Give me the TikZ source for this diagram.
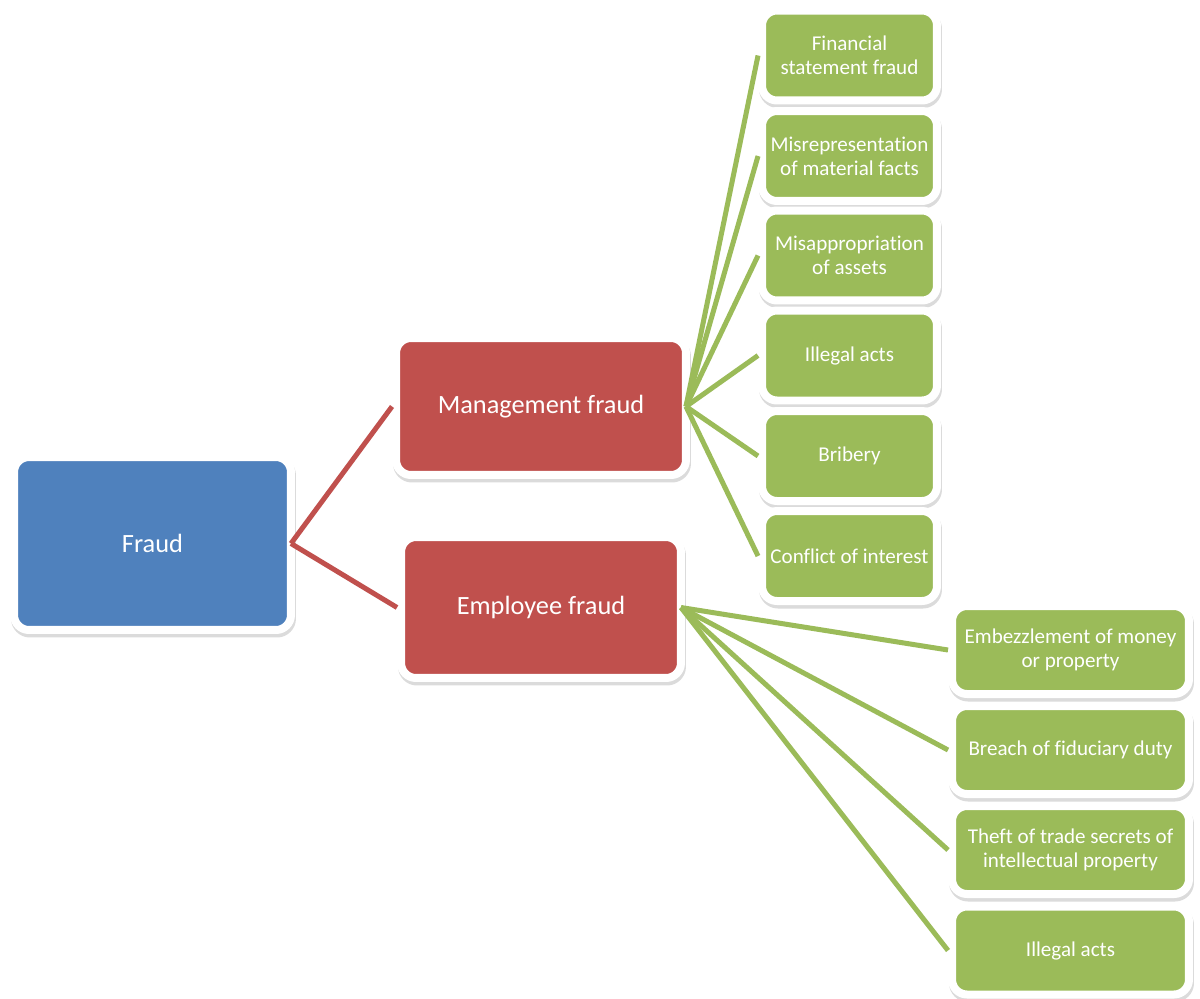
\documentclass[tikz,border=0pt]{standalone}
\usepackage{fontspec}
\setmainfont{Carlito}[Ligatures={NoCommon}]
\usetikzlibrary{positioning}
\usetikzlibrary{shadows,backgrounds}
\definecolor{rootblue}{HTML}{4F81BD}
\definecolor{typered}{HTML}{C0504D}
\definecolor{leafgreen}{HTML}{9BBB59}

\begin{document}
\begin{tikzpicture}[x=0.02cm,y=-0.02cm,
	box/.style={draw=white,line width=0.16cm,rounded corners=0.3cm,text=white,align=center,inner sep=0pt,outer sep=0pt,
		drop shadow={shadow xshift=0.02cm,shadow yshift=-0.07cm,opacity=1,fill=black!14,draw=black!14}},
	rootbox/.style={box,fill=rootblue,font=\fontsize{15}{18}\selectfont},
	typebox/.style={box,fill=typered,font=\fontsize{15}{18}\selectfont},
	leafbox/.style={box,fill=leafgreen,minimum height=1.8cm,font=\fontsize{12}{13.6}\selectfont},
	redline/.style={line width=0.1cm,typered},
	greenline/.style={line width=0.1cm,leafgreen}]
	\useasboundingbox (0,0) rectangle (1200,998);
	\fill[white] (0,0) rectangle (1200,998);
	\node[rootbox,minimum width=5.54cm,minimum height=3.46cm] (Fraud) at (152.5,543.5) {Fraud};
	\node[typebox,minimum width=5.8cm,minimum height=2.74cm] (Mgmt) at (541,406.5) {Management fraud};
	\node[typebox,minimum width=5.6cm,minimum height=2.82cm] (Empl) at (541,607.5) {Employee fraud};
	\node[leafbox,minimum width=3.5cm] (M1) at (849.5,55.5) {Financial\\statement fraud};
	\node[leafbox,minimum width=3.5cm] (M2) at (849.5,156) {Misrepresentation\\of material facts};
	\node[leafbox,minimum width=3.5cm] (M3) at (849.5,255.5) {Misappropriation\\of assets};
	\node[leafbox,minimum width=3.5cm] (M4) at (849.5,355.5) {Illegal acts};
	\node[leafbox,minimum width=3.5cm] (M5) at (849.5,456) {Bribery};
	\node[leafbox,minimum width=3.5cm] (M6) at (849.5,556) {Conflict of interest};
	\node[leafbox,minimum width=4.74cm,minimum height=1.76cm] (E1) at (1070.5,650) {Embezzlement of money\\or property};
	\node[leafbox,minimum width=4.74cm,minimum height=1.76cm] (E2) at (1070.5,750) {Breach of fiduciary duty};
	\node[leafbox,minimum width=4.74cm,minimum height=1.76cm] (E3) at (1070.5,850) {Theft of trade secrets of\\intellectual property};
	\node[leafbox,minimum width=4.74cm,minimum height=1.76cm] (E4) at (1070.5,950.5) {Illegal acts};
	\draw[redline] (Fraud.east) -- ([xshift=-0.08cm]Mgmt.west);
	\draw[redline] (Fraud.east) -- ([xshift=-0.08cm]Empl.west);
	\draw[greenline] (Mgmt.east) -- ([xshift=-0.08cm]M1.west);
	\draw[greenline] (Mgmt.east) -- ([xshift=-0.08cm]M2.west);
	\draw[greenline] (Mgmt.east) -- ([xshift=-0.08cm]M3.west);
	\draw[greenline] (Mgmt.east) -- ([xshift=-0.08cm]M4.west);
	\draw[greenline] (Mgmt.east) -- ([xshift=-0.08cm]M5.west);
	\draw[greenline] (Mgmt.east) -- ([xshift=-0.08cm]M6.west);
	\draw[greenline] (Empl.east) -- ([xshift=-0.08cm]E1.west);
	\draw[greenline] (Empl.east) -- ([xshift=-0.08cm]E2.west);
	\draw[greenline] (Empl.east) -- ([xshift=-0.08cm]E3.west);
	\draw[greenline] (Empl.east) -- ([xshift=-0.08cm]E4.west);
\end{tikzpicture}
\end{document}
